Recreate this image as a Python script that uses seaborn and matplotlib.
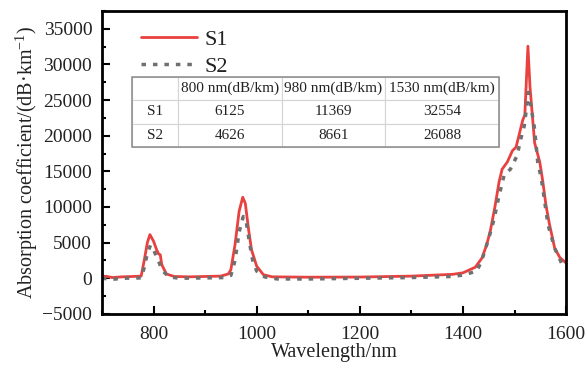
import numpy as np
import pandas as pd
import seaborn as sns
import matplotlib
matplotlib.use("Agg")
import matplotlib.pyplot as plt
from matplotlib.ticker import MultipleLocator
from matplotlib.patches import Rectangle

# ---------------- data ----------------
s1_wl = [700, 710, 720, 740, 760, 776, 782, 788, 793, 800, 806, 810, 813, 816, 825, 840, 870,
         900, 930, 945, 950, 958, 966, 973, 978, 984, 990, 1000, 1013, 1030, 1100, 1200, 1300,
         1380, 1400, 1424, 1437, 1446, 1453, 1462, 1470, 1476, 1486, 1496, 1503, 1516, 1520,
         1526, 1530, 1539, 1549, 1555, 1561, 1568, 1578, 1588, 1600]
s1_val = [300, 250, 100, 200, 250, 300, 2500, 5000, 6125, 5200, 4000, 3400, 3300, 1900, 600, 250, 200,
          250, 300, 600, 1200, 4700, 9400, 11369, 10500, 7000, 4000, 1700, 500, 200, 150, 170, 300,
          550, 760, 1550, 2850, 4700, 6600, 10000, 13500, 15300, 16300, 17900, 18400, 22200, 22900,
          32554, 26900, 19000, 16300, 13500, 10250, 7500, 4200, 2900, 2150]

s2_wl = [700, 720, 740, 776, 782, 788, 794, 800, 806, 812, 818, 830, 850, 900, 940, 950, 958,
         966, 974, 980, 986, 992, 1000, 1015, 1040, 1100, 1200, 1300, 1380, 1400, 1427, 1437,
         1450, 1460, 1470, 1480, 1492, 1505, 1512, 1519, 1527, 1532, 1539, 1545, 1552, 1565,
         1578, 1591, 1600]
s2_val = [0, -150, 0, 50, 1500, 3500, 4626, 4000, 3000, 2000, 1000, 200, 0, 50, 100, 400, 2500,
          6500, 8661, 7800, 5000, 2600, 1000, 200, -100, -100, 0, 100, 250, 450, 1000, 2600,
          5600, 8200, 11600, 14500, 15300, 17200, 19500, 21400, 26088, 24100, 20900, 16300, 14000, 7500,
          4200, 2150, 1700]

series_names = ["S1", "S2"]
table_cols = ["", "800 nm(dB/km)", "980 nm(dB/km)", "1530 nm(dB/km)"]
table_s1 = ["6125", "11369", "32554"]
table_s2 = ["4626", "8661", "26088"]

# ---------------- style ----------------
sns.set_theme(style="ticks")
plt.rcParams["font.family"] = ["Liberation Serif", "DejaVu Serif"]
plt.rcParams["mathtext.fontset"] = "custom"
plt.rcParams["mathtext.rm"] = "Liberation Serif"
plt.rcParams["mathtext.default"] = "regular"

df1 = pd.DataFrame({"wl": s1_wl, "val": s1_val})
df2 = pd.DataFrame({"wl": s2_wl, "val": s2_val})

fig = plt.figure(figsize=(5.86, 3.65), dpi=100)
ax = fig.add_axes([0.174, 0.140, 0.792, 0.830])

sns.lineplot(data=df1, x="wl", y="val", ax=ax, color="#E8413F", lw=2.0,
             label=series_names[0], sort=False, estimator=None)
sns.lineplot(data=df2, x="wl", y="val", ax=ax, color="#707070", lw=2.5,
             label=series_names[1], sort=False, estimator=None, dashes=False)
ax.lines[1].set_dashes((1.3, 2.0))

ax.set_xlim(700, 1600)
ax.set_ylim(-5000, 37500)
ax.xaxis.set_major_locator(MultipleLocator(200))
ax.xaxis.set_minor_locator(MultipleLocator(100))
ax.yaxis.set_major_locator(MultipleLocator(5000))
ax.yaxis.set_minor_locator(MultipleLocator(2500))
ax.tick_params(which="both", direction="in", width=1.5, colors="black", labelcolor="#222222",
               labelsize=14, top=False, right=False)
ax.tick_params(which="major", length=6)
ax.tick_params(which="minor", length=3)
ax.tick_params(axis="x", which="major", pad=9)
ax.tick_params(axis="y", which="major", pad=7)
for sp in ax.spines.values():
    sp.set_visible(True)
    sp.set_linewidth(2.0)
    sp.set_color("black")

ax.set_xlabel("Wavelength/nm", fontsize=14.5, color="#222222", labelpad=0)
ax.set_ylabel("Absorption coefficient/(dB·km$^{-1}$)", fontsize=14.5, color="#222222", labelpad=2)

leg = ax.legend(loc="upper left", bbox_to_anchor=(0.085, 0.94), frameon=False,
                fontsize=16, handlelength=2.5, handletextpad=0.35, labelspacing=0.3,
                borderpad=0, borderaxespad=0)
for t in leg.get_texts():
    t.set_color("#222222")

# ---------------- table ----------------
cell_text = [table_cols, ["S1"] + table_s1, ["S2"] + table_s2]
tx0, tx1 = 0.064, 0.856
ty0, ty1 = 0.551, 0.782
tbl = ax.table(cellText=cell_text, cellLoc="center",
               bbox=[tx0, ty0, tx1 - tx0, ty1 - ty0], zorder=5)
tbl.auto_set_font_size(False)
widths = [46, 104, 103, 114]
tot = sum(widths)
for (r, c), cell in tbl.get_celld().items():
    cell.set_width((tx1 - tx0) * widths[c] / tot)
    cell.set_edgecolor("#d4d4d4")
    cell.set_linewidth(0.8)
    cell.set_facecolor("white")
    cell.get_text().set_fontsize(11)
    cell.get_text().set_color("#222222")
ax.add_patch(Rectangle((tx0, ty0), tx1 - tx0, ty1 - ty0, transform=ax.transAxes,
                       fill=False, edgecolor="#8a8a8a", lw=1.1, zorder=6))

fig.savefig("out.png", dpi=100)
